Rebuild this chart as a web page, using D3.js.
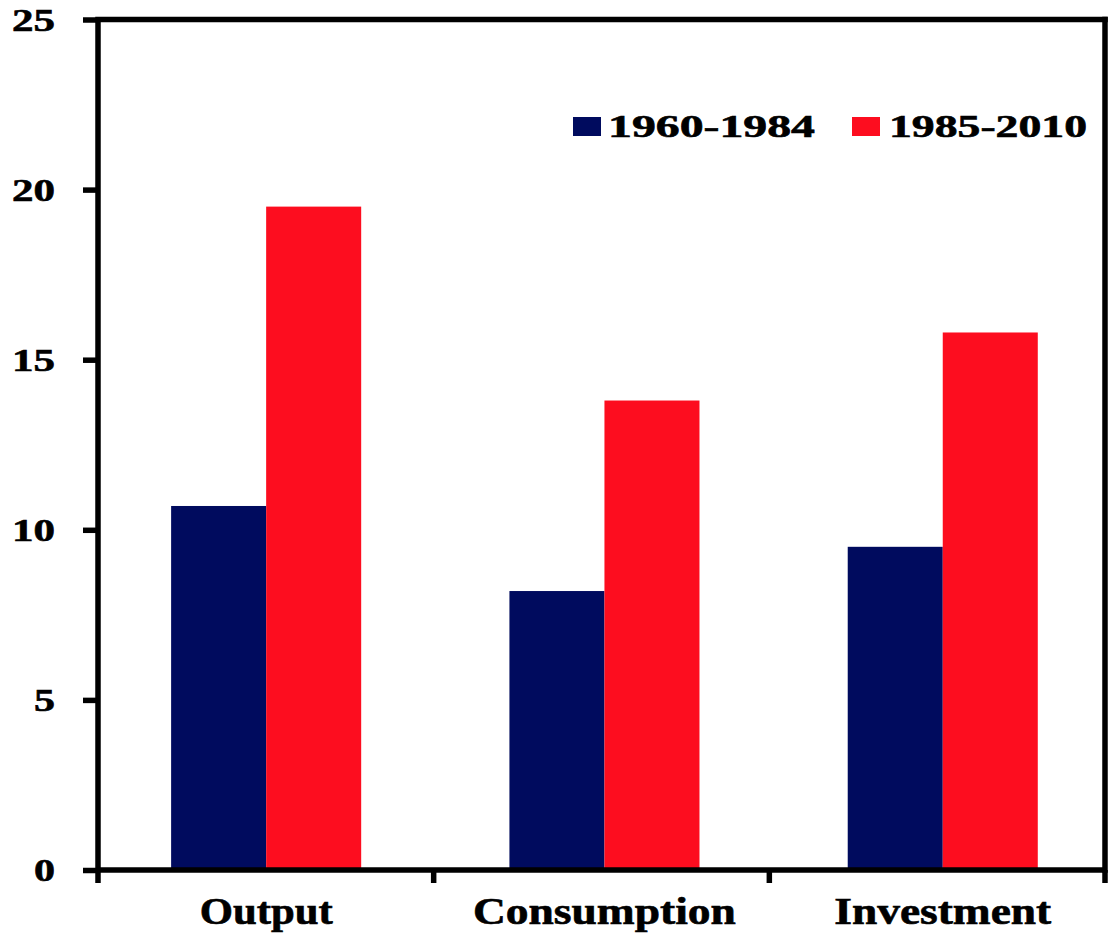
<!DOCTYPE html>
<html>
<head>
<meta charset="utf-8">
<script src="https://cdn.jsdelivr.net/npm/d3@7"></script>
<style>
html,body{margin:0;padding:0;background:#fff;}
svg{display:block;}
text{font-family:"Liberation Serif","Times New Roman",serif;font-weight:bold;fill:#000;stroke:#000;stroke-width:0.6px;}
</style>
</head>
<body>
<svg id="chart" width="1114" height="938"></svg>
<script>
const categories = ["Output", "Consumption", "Investment"];
const seriesNames = ["1960-1984", "1985-2010"];
const values1960_1984 = [10.7, 8.2, 9.5];
const values1985_2010 = [19.5, 13.8, 15.8];
const yTicks = [0, 5, 10, 15, 20, 25];
const colors = ["#000b5e", "#fd0d1f"];

const svg = d3.select("#chart");
const plotLeft = 98, plotRight = 1105, plotTop = 19.5, plotBottom = 870;

// axis tick scale
const x = d3.scaleBand().domain(categories).range([plotLeft, plotRight]).paddingInner(0).paddingOuter(0);
// bar placement scale (bars sit slightly wider apart than the axis ticks)
const xb = d3.scaleBand().domain(categories).range([plotLeft - 1, plotLeft - 1 + 3 * 338.3]).paddingInner(0).paddingOuter(0);
const xs = d3.scaleBand().domain(seriesNames).range([0, xb.bandwidth()]).paddingInner(0).paddingOuter(0.78);
const y = d3.scaleLinear().domain([0, 25]).range([plotBottom, plotTop]);

const data = categories.map((c, i) => ({cat: c, vals: [values1960_1984[i], values1985_2010[i]]}));

// bars
const g = svg.append("g");
data.forEach(d => {
  seriesNames.forEach((s, j) => {
    g.append("rect")
      .attr("x", xb(d.cat) + xs(s))
      .attr("y", y(d.vals[j]))
      .attr("width", xs.bandwidth())
      .attr("height", y(0) - y(d.vals[j]))
      .attr("fill", colors[j]);
  });
});

const stroke = 5.5;
// frame: top and right
svg.append("line").attr("x1", plotLeft).attr("x2", plotRight).attr("y1", plotTop).attr("y2", plotTop)
  .attr("stroke", "#000").attr("stroke-width", stroke).attr("stroke-linecap", "square");
svg.append("line").attr("x1", plotRight).attr("x2", plotRight).attr("y1", plotTop).attr("y2", plotBottom)
  .attr("stroke", "#000").attr("stroke-width", stroke).attr("stroke-linecap", "square");

// y axis
const yAxis = d3.axisLeft(y).tickValues(yTicks).tickSize(15).tickFormat("");
const ya = svg.append("g").attr("transform", `translate(${plotLeft},0)`).call(yAxis);
ya.select(".domain").attr("stroke", "#000").attr("stroke-width", stroke).attr("d", `M0,${plotTop}V${plotBottom}`);
ya.selectAll(".tick line").attr("stroke", "#000").attr("stroke-width", stroke);

// y labels
svg.append("g").selectAll("text").data(yTicks).join("text")
  .attr("x", 55)
  .attr("y", d => y(d) + 11)
  .attr("text-anchor", "end")
  .attr("font-size", 32)
  .attr("textLength", d => String(d).length === 1 ? 21 : 43)
  .attr("lengthAdjust", "spacingAndGlyphs")
  .text(d => d);

// x axis
const xTickPos = [plotLeft, ...categories.map(c => x(c) + x.bandwidth())];
svg.append("line").attr("x1", plotLeft).attr("x2", plotRight).attr("y1", plotBottom).attr("y2", plotBottom)
  .attr("stroke", "#000").attr("stroke-width", stroke);
svg.append("g").selectAll("line").data(xTickPos).join("line")
  .attr("x1", d => d).attr("x2", d => d).attr("y1", plotBottom).attr("y2", plotBottom + 13)
  .attr("stroke", "#000").attr("stroke-width", stroke);

const labelLens = {"Output": 133, "Consumption": 263, "Investment": 217};
svg.append("g").selectAll("text").data(categories).join("text")
  .attr("x", d => xb(d) + xb.bandwidth() / 2)
  .attr("y", 924)
  .attr("text-anchor", "middle")
  .attr("font-size", 37)
  .attr("textLength", d => labelLens[d])
  .attr("lengthAdjust", "spacingAndGlyphs")
  .text(d => d);

// legend
const legendItems = [
  {name: seriesNames[0], color: colors[0], sx: 573, tx: 608, tl: 207},
  {name: seriesNames[1], color: colors[1], sx: 852, tx: 889, tl: 198}
];
const lg = svg.append("g");
legendItems.forEach(it => {
  lg.append("rect").attr("x", it.sx).attr("y", 117).attr("width", 28).attr("height", 19).attr("fill", it.color);
  lg.append("text").attr("x", it.tx).attr("y", 137).attr("font-size", 31)
    .attr("textLength", it.tl).attr("lengthAdjust", "spacingAndGlyphs").text(it.name);
});
</script>
</body>
</html>
